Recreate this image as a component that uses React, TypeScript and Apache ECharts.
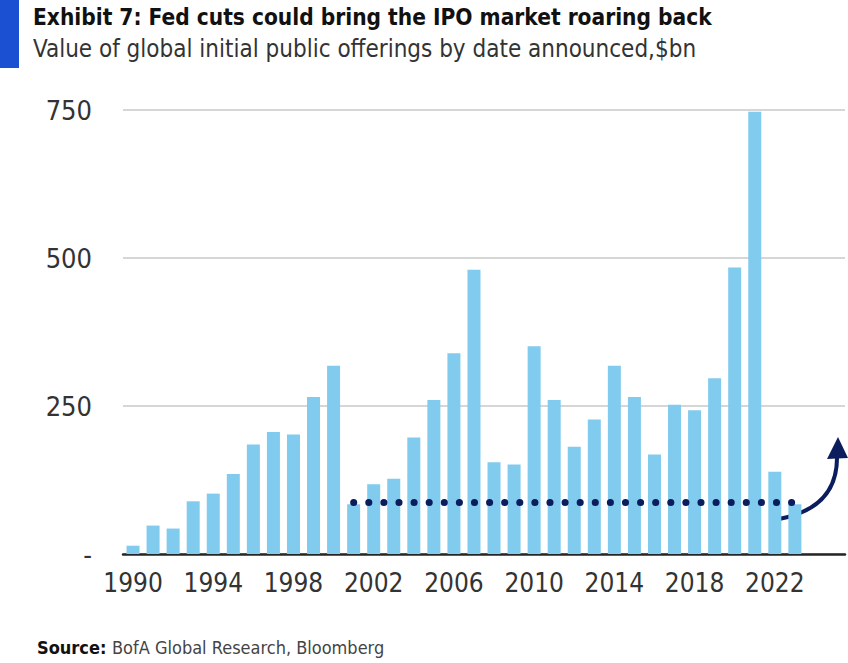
import React, { useEffect, useRef } from "react";
import * as echarts from "echarts";

const years: string[] = [
  "1990", "1991", "1992", "1993", "1994", "1995", "1996", "1997", "1998", "1999",
  "2000", "2001", "2002", "2003", "2004", "2005", "2006", "2007", "2008", "2009",
  "2010", "2011", "2012", "2013", "2014", "2015", "2016", "2017", "2018", "2019",
  "2020", "2021", "2022", "2023", "2024", "2025",
];

const ipoValues: (number | null)[] = [
  14, 48, 43, 89, 102, 135, 185, 206, 202, 265,
  318, 84, 118, 127, 197, 260, 339, 480, 155, 151,
  351, 260, 181, 227, 318, 265, 168, 252, 243, 297,
  484, 747, 139, 84, null, null,
];

const yTicks: number[] = [0, 250, 500, 750];
const dottedLevel = 87;
const dottedFrom = "2001";
const dottedTo = "2023";

const TITLE = "Exhibit 7: Fed cuts could bring the IPO market roaring back";
const SUBTITLE = "Value of global initial public offerings by date announced,$bn";
const SOURCE_LABEL = "Source:";
const SOURCE_TEXT = "BofA Global Research, Bloomberg";

const FONT = "'DejaVu Sans Condensed', 'Liberation Sans Narrow', 'Liberation Sans', sans-serif";

export default function App() {
  const ref = useRef<HTMLDivElement>(null);

  useEffect(() => {
    if (!ref.current) return;
    const chart = echarts.init(ref.current, null, { renderer: "svg" });
    const option: any = {
      animation: false,
      backgroundColor: "#ffffff",
      textStyle: { fontFamily: FONT },
      grid: { left: 123, right: 3, top: 110, bottom: 109, containLabel: false },
      xAxis: {
        type: "category",
        data: years,
        boundaryGap: true,
        axisLine: { show: true, lineStyle: { color: "#262626", width: 2.5 } },
        axisTick: { show: false },
        axisLabel: {
          interval: 3,
          fontSize: 26,
          color: "#333333",
          margin: 16,
          fontFamily: FONT,
        },
        splitLine: { show: false },
      },
      yAxis: {
        type: "value",
        min: yTicks[0],
        max: yTicks[yTicks.length - 1],
        interval: 250,
        axisLine: { show: false },
        axisTick: { show: false },
        axisLabel: {
          fontSize: 27,
          color: "#333333",
          margin: 31,
          fontFamily: FONT,
          formatter: (v: number) => (v === 0 ? "-" : String(v)),
        },
        splitLine: { show: true, lineStyle: { color: "#d6d6d6", width: 2 } },
      },
      series: [
        {
          type: "bar",
          data: ipoValues,
          barWidth: 13,
          itemStyle: { color: "#80cbee" },
          markLine: {
            silent: true,
            symbol: ["none", "none"],
            label: { show: false },
            lineStyle: {
              type: [0.1, 15],
              width: 7,
              cap: "round",
              color: "#0c1d5e",
            },
            data: [
              [
                { coord: [dottedFrom, dottedLevel] },
                { coord: [dottedTo, dottedLevel] },
              ],
            ],
          },
        },
      ],
      graphic: [
        { type: "rect", left: 0, top: 0, shape: { width: 19, height: 68 }, style: { fill: "#1b50d2" } },
        {
          type: "text",
          left: 33,
          top: 5,
          style: { text: TITLE, font: `bold 22.5px ${FONT}`, fill: "#111111" },
        },
        {
          type: "text",
          left: 33,
          top: 37,
          style: { text: SUBTITLE, font: `24px ${FONT}`, fill: "#333333" },
        },
        {
          type: "text",
          left: 37,
          top: 638,
          style: { text: SOURCE_LABEL, font: `bold 18px ${FONT}`, fill: "#111111" },
        },
        {
          type: "text",
          left: 112,
          top: 638,
          style: { text: SOURCE_TEXT, font: `18px ${FONT}`, fill: "#444444" },
        },
        {
          type: "bezierCurve",
          shape: { x1: 779, y1: 519, x2: 837, y2: 456, cpx1: 838, cpy1: 508 },
          style: { stroke: "#0c1d5e", lineWidth: 4, fill: null },
        },
        {
          type: "polygon",
          shape: { points: [[838, 437], [827, 459], [848, 458]] },
          style: { fill: "#0c1d5e" },
        },
      ],
    };
    chart.setOption(option);
    return () => chart.dispose();
  }, []);

  return (
    <div
      ref={ref}
      style={{ position: "fixed", left: 0, top: 0, width: 848, height: 663, background: "#fff" }}
    />
  );
}
